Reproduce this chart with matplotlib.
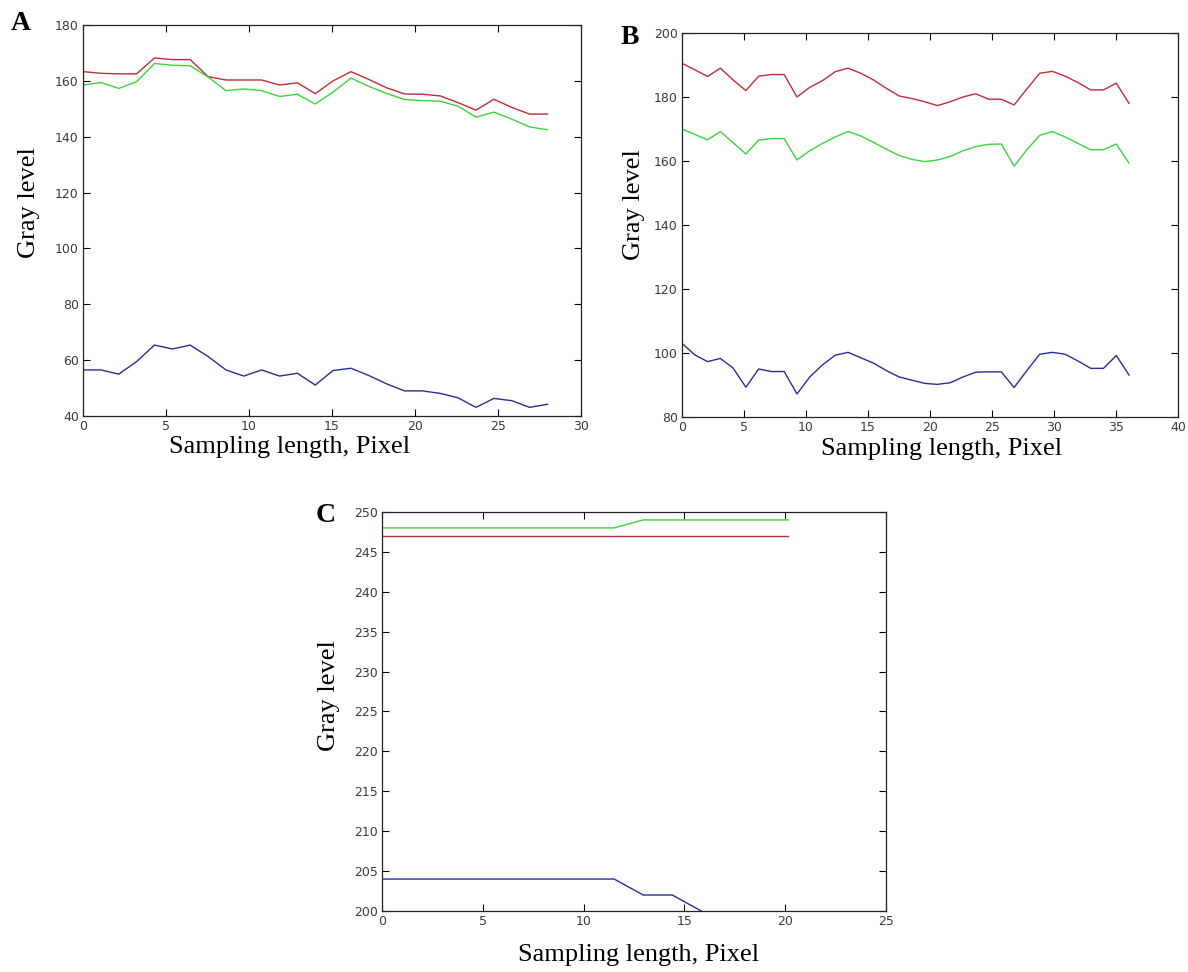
import numpy as np
import matplotlib
matplotlib.use('Agg')
import matplotlib.pyplot as plt

# panel A: gray level along the sampling line (27 samples)
a_step = 1.076
a_red = [163.3, 162.7, 162.5, 162.5, 168.2, 167.6, 167.6, 161.5, 160.3, 160.3,
         160.3, 158.5, 159.3, 155.4, 160.0, 163.3, 160.5, 157.5, 155.3, 155.2,
         154.6, 152.2, 149.5, 153.4, 150.5, 148.1, 148.1]
a_green = [158.5, 159.4, 157.3, 159.7, 166.2, 165.6, 165.4, 161.4, 156.5, 157.1,
           156.5, 154.4, 155.2, 151.7, 156.0, 161.0, 158.0, 155.5, 153.3, 152.9,
           152.7, 150.9, 147.0, 148.8, 146.3, 143.5, 142.5]
a_blue = [56.5, 56.5, 55.0, 59.5, 65.4, 64.0, 65.4, 61.3, 56.5, 54.3,
          56.5, 54.3, 55.3, 51.1, 56.3, 57.1, 54.5, 51.5, 49.0, 49.0,
          48.1, 46.5, 43.1, 46.3, 45.5, 43.1, 44.2]

# panel B (36 samples)
b_step = 1.03
b_red = [190.5, 188.5, 186.4, 189.0, 185.3, 182.0, 186.5, 187.0, 187.0, 180.0,
         183.0, 185.1, 187.9, 189.0, 187.4, 185.3, 182.7, 180.3, 179.5, 178.5,
         177.3, 178.5, 180.0, 181.0, 179.3, 179.3, 177.5, 182.5, 187.4, 188.0,
         186.5, 184.5, 182.2, 182.2, 184.3, 178.0]
b_green = [170.0, 168.3, 166.6, 169.2, 165.7, 162.2, 166.5, 167.0, 167.0, 160.3,
           163.2, 165.5, 167.5, 169.2, 167.8, 165.8, 163.7, 161.7, 160.5, 159.8,
           160.3, 161.4, 163.2, 164.5, 165.2, 165.3, 158.4, 163.5, 168.0, 169.2,
           167.5, 165.5, 163.5, 163.5, 165.3, 159.3]
b_blue = [103.0, 99.4, 97.3, 98.3, 95.3, 89.3, 95.0, 94.2, 94.2, 87.2,
          92.5, 96.3, 99.3, 100.2, 98.5, 96.8, 94.5, 92.5, 91.5, 90.5,
          90.2, 90.7, 92.5, 94.0, 94.1, 94.1, 89.2, 94.5, 99.6, 100.2,
          99.6, 97.5, 95.2, 95.2, 99.2, 93.1]

# panel C (15 samples)
c_step = 1.44
c_red = [247] * 15
c_green = [248, 248, 248, 248, 248, 248, 248, 248, 248, 249, 249, 249, 249, 249, 249]
c_blue = [204, 204, 204, 204, 204, 204, 204, 204, 204, 202, 202, 200, 198, 197, 197]

# letter, axes rect, step, series, xlim, xticks, ylim, yticks, letter pos (px),
# xlabel coords, ylabel coords (axes fraction)
panels = [
    ('A', [0.0699, 0.5720, 0.4192, 0.4023], a_step, a_red, a_green, a_blue,
     (0, 30), np.arange(0, 31, 5), (40, 180), np.arange(40, 181, 20), (11, 24),
     (0.414, -0.052), (-0.086, 0.547)),
    ('B', [0.5741, 0.5710, 0.4175, 0.3951], b_step, b_red, b_green, b_blue,
     (0, 40), np.arange(0, 41, 5), (80, 200), np.arange(80, 201, 20), (621, 37),
     (0.524, -0.054), (-0.075, 0.552)),
    ('C', [0.3215, 0.0628, 0.4242, 0.4105], c_step, c_red, c_green, c_blue,
     (0, 25), np.arange(0, 26, 5), (200, 250), np.arange(200, 251, 5), (316, 515),
     (0.51, -0.083), (-0.083, 0.539)),
]

red = '#c02c3c'
green = '#3cd43c'
blue = '#2c2c94'

fig = plt.figure(figsize=(11.88, 9.72), dpi=100)

for letter, pos, step, r, g, b, xlim, xt, ylim, yt, lpos, xlc, ylc in panels:
    ax = fig.add_axes(pos)
    x = np.arange(len(r)) * step
    ax.plot(x, r, color=red, lw=1.0)
    ax.plot(x, g, color=green, lw=1.0)
    ax.plot(x, b, color=blue, lw=1.0)
    ax.set_xlim(*xlim)
    ax.set_ylim(*ylim)
    ax.set_xticks(xt)
    ax.set_yticks(yt)
    ax.tick_params(direction='in', top=True, right=True, length=5, width=0.8,
                   labelsize=9, labelcolor='#3a3a3a', pad=3)
    for s in ax.spines.values():
        s.set_linewidth(0.9)
        s.set_color('#222222')
    ax.set_xlabel('Sampling length, Pixel', family='Liberation Serif', fontsize=19)
    ax.set_ylabel('Gray level', family='Liberation Serif', fontsize=19)
    ax.xaxis.set_label_coords(*xlc)
    ax.yaxis.set_label_coords(*ylc)
    fig.text(lpos[0] / 1188, 1 - lpos[1] / 972, letter, family='Liberation Serif',
             fontsize=20, fontweight='bold', ha='left', va='center')

fig.savefig('out.png', dpi=100, facecolor='white')
